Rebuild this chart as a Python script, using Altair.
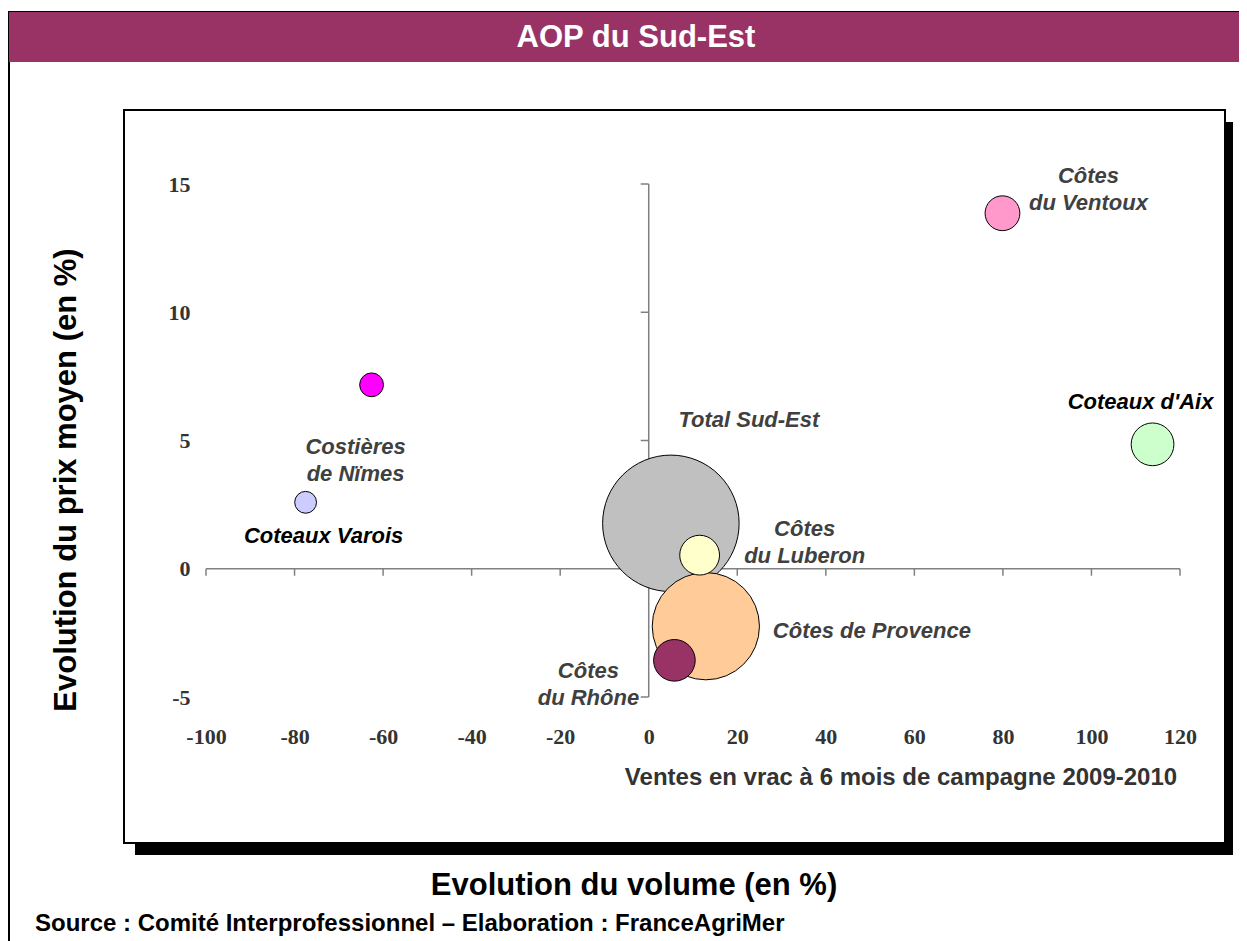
import altair as alt
import pandas as pd

# ---- data ----
names = ["Total Sud-Est", "Côtes de Provence", "Côtes du Luberon", "Côtes du Rhône",
         "Côtes du Ventoux", "Coteaux d'Aix", "Costières de Nïmes", "Coteaux Varois"]
label_text = ["Total Sud-Est", "Côtes de Provence", "Côtes\ndu Luberon", "Côtes\ndu Rhône",
              "Côtes\ndu Ventoux", "Coteaux d'Aix", "Costières\nde Nïmes", "Coteaux Varois"]
volume_evol = [5.0, 12.9, 11.5, 5.8, 79.9, 113.8, -62.6, -77.5]      # %
price_evol = [1.77, -2.24, 0.53, -3.57, 13.86, 4.85, 7.17, 2.59]      # %
bubble_size = [100, 61.7, 8.5, 9.3, 6.5, 9.8, 3.05, 2.56]             # relative volume
colors = ["#C0C0C0", "#FFCC99", "#FFFFCC", "#993366", "#FF99CC", "#CCFFCC", "#FF00FF", "#CCCCFF"]
x_ticks = [-100, -80, -60, -40, -20, 0, 20, 40, 60, 80, 100, 120]
y_ticks = [-5, 0, 5, 10, 15]

# ---- layout / style (pixels) ----
label_dx = [78, 166, 105, -86, 86, -12, -16, 18]
label_dy = [-103, 5, -26, 11, -37, -42, 62, 34]
label_col = ["#404040", "#404040", "#404040", "#404040", "#404040", "#000000", "#404040", "#000000"]

W, H = 974, 513
PAD = {"left": 198, "top": 176, "right": 59, "bottom": 244}

df = pd.DataFrame({
    "name": names, "label": label_text, "vol": volume_evol, "prix": price_evol,
    "taille": bubble_size, "rank": list(range(len(names)))
})
one = pd.DataFrame({"a": [0]})

xscale = alt.Scale(domain=[-100, 120], nice=False, zero=False)
yscale = alt.Scale(domain=[-5, 15], nice=False, zero=False)

axis_common = dict(domain=False, ticks=False, tickSize=0, grid=False, title=None,
                   labelFont="Liberation Serif", labelFontWeight="bold", labelFontSize=22,
                   labelColor="#333333", labelOverlap=False, labelFlush=False, zindex=1,
                   labelExpr="toString(datum.value)")
xaxis = alt.Axis(values=x_ticks, labelPadding=29, **axis_common)
yaxis = alt.Axis(values=y_ticks, labelPadding=16, **axis_common)


def rect(x1, x2, y1, y2, **kw):
    return alt.Chart(one).mark_rect(**kw).encode(
        x=alt.value(x1), x2=alt.value(x2), y=alt.value(y1), y2=alt.value(y2))


def label(txt, x, y, **kw):
    return alt.Chart(one).mark_text(**kw).encode(
        x=alt.value(x), y=alt.value(y), text=alt.value(txt))


shadow = rect(-71, 1027, -62, 671, color="#000000")
inner = rect(-82, 1019, -74, 659, fill="#FFFFFF", stroke="#000000", strokeWidth=2)
outer = rect(-197, 1054, -172, 796, fillOpacity=0, stroke="#000000", strokeWidth=2)
band = rect(-197, 1054, -172, -122, color="#993366")

xline = alt.Chart(one).mark_rule(color="#808080", strokeWidth=1.5).encode(
    x=alt.XDatum(-100, scale=xscale, axis=xaxis), x2=alt.datum(120),
    y=alt.YDatum(0, scale=yscale, axis=yaxis))
yline = alt.Chart(one).mark_rule(color="#808080", strokeWidth=1.5).encode(
    y=alt.YDatum(-5, scale=yscale, axis=yaxis), y2=alt.datum(15),
    x=alt.XDatum(0, scale=xscale, axis=xaxis))
xt = alt.Chart(pd.DataFrame({"v": x_ticks})).mark_rule(
    color="#808080", strokeWidth=1.5, y2Offset=7).encode(
    x=alt.X("v:Q", scale=xscale, axis=xaxis),
    y=alt.YDatum(0, scale=yscale, axis=yaxis), y2=alt.datum(0))
yt = alt.Chart(pd.DataFrame({"v": y_ticks})).mark_rule(
    color="#808080", strokeWidth=1.5, x2Offset=-8).encode(
    y=alt.Y("v:Q", scale=yscale, axis=yaxis),
    x=alt.XDatum(0, scale=xscale, axis=xaxis), x2=alt.datum(0))

bubbles = alt.Chart(df).mark_circle(opacity=1, stroke="#000000", strokeWidth=1).encode(
    x=alt.X("vol:Q", scale=xscale, axis=xaxis),
    y=alt.Y("prix:Q", scale=yscale, axis=yaxis),
    size=alt.Size("taille:Q", scale=alt.Scale(domain=[0, 100], range=[0, 18632], zero=True), legend=None),
    color=alt.Color("name:N", scale=alt.Scale(domain=names, range=colors), legend=None),
    order=alt.Order("rank:Q"),
)

labels = []
for i in range(len(names)):
    labels.append(
        alt.Chart(df.iloc[[i]]).mark_text(
            font="Liberation Sans", fontStyle="italic", fontWeight="bold", fontSize=22,
            color=label_col[i], lineBreak="\n", lineHeight=27, align="center",
            baseline="middle", dx=label_dx[i], dy=label_dy[i]).encode(
            x=alt.X("vol:Q", scale=xscale, axis=xaxis),
            y=alt.Y("prix:Q", scale=yscale, axis=yaxis),
            text="label:N"))

title = label("AOP du Sud-Est", 430, -146, font="Liberation Sans", fontWeight="bold",
              fontSize=31, color="#FFFFFF", align="center", baseline="middle")
ytitle = label("Evolution du prix moyen (en %)", -139, 296, font="Liberation Sans",
               fontWeight="bold", fontSize=31, color="#000000", align="center",
               baseline="middle", angle=270)
xtitle = label("Evolution du volume (en %)", 428, 702, font="Liberation Sans",
               fontWeight="bold", fontSize=31, color="#000000", align="center", baseline="middle")
ventes = label("Ventes en vrac à 6 mois de campagne 2009-2010", 695, 594, font="Liberation Sans",
               fontWeight="bold", fontSize=24, color="#333333", align="center", baseline="middle")
source = label("Source : Comité Interprofessionnel – Elaboration : FranceAgriMer", -171, 740,
               font="Liberation Sans", fontWeight="bold", fontSize=24, color="#000000",
               align="left", baseline="middle")

chart = alt.layer(
    shadow, inner, outer, band, xline, yline, xt, yt, bubbles, *labels,
    title, ytitle, xtitle, ventes, source
).properties(
    width=W, height=H, padding=PAD, autosize=alt.AutoSizeParams(type="none")
).configure(background="#FFFFFF").configure_view(strokeWidth=0)

chart.save("out.html", embed_options={"renderer": "svg", "actions": False})
